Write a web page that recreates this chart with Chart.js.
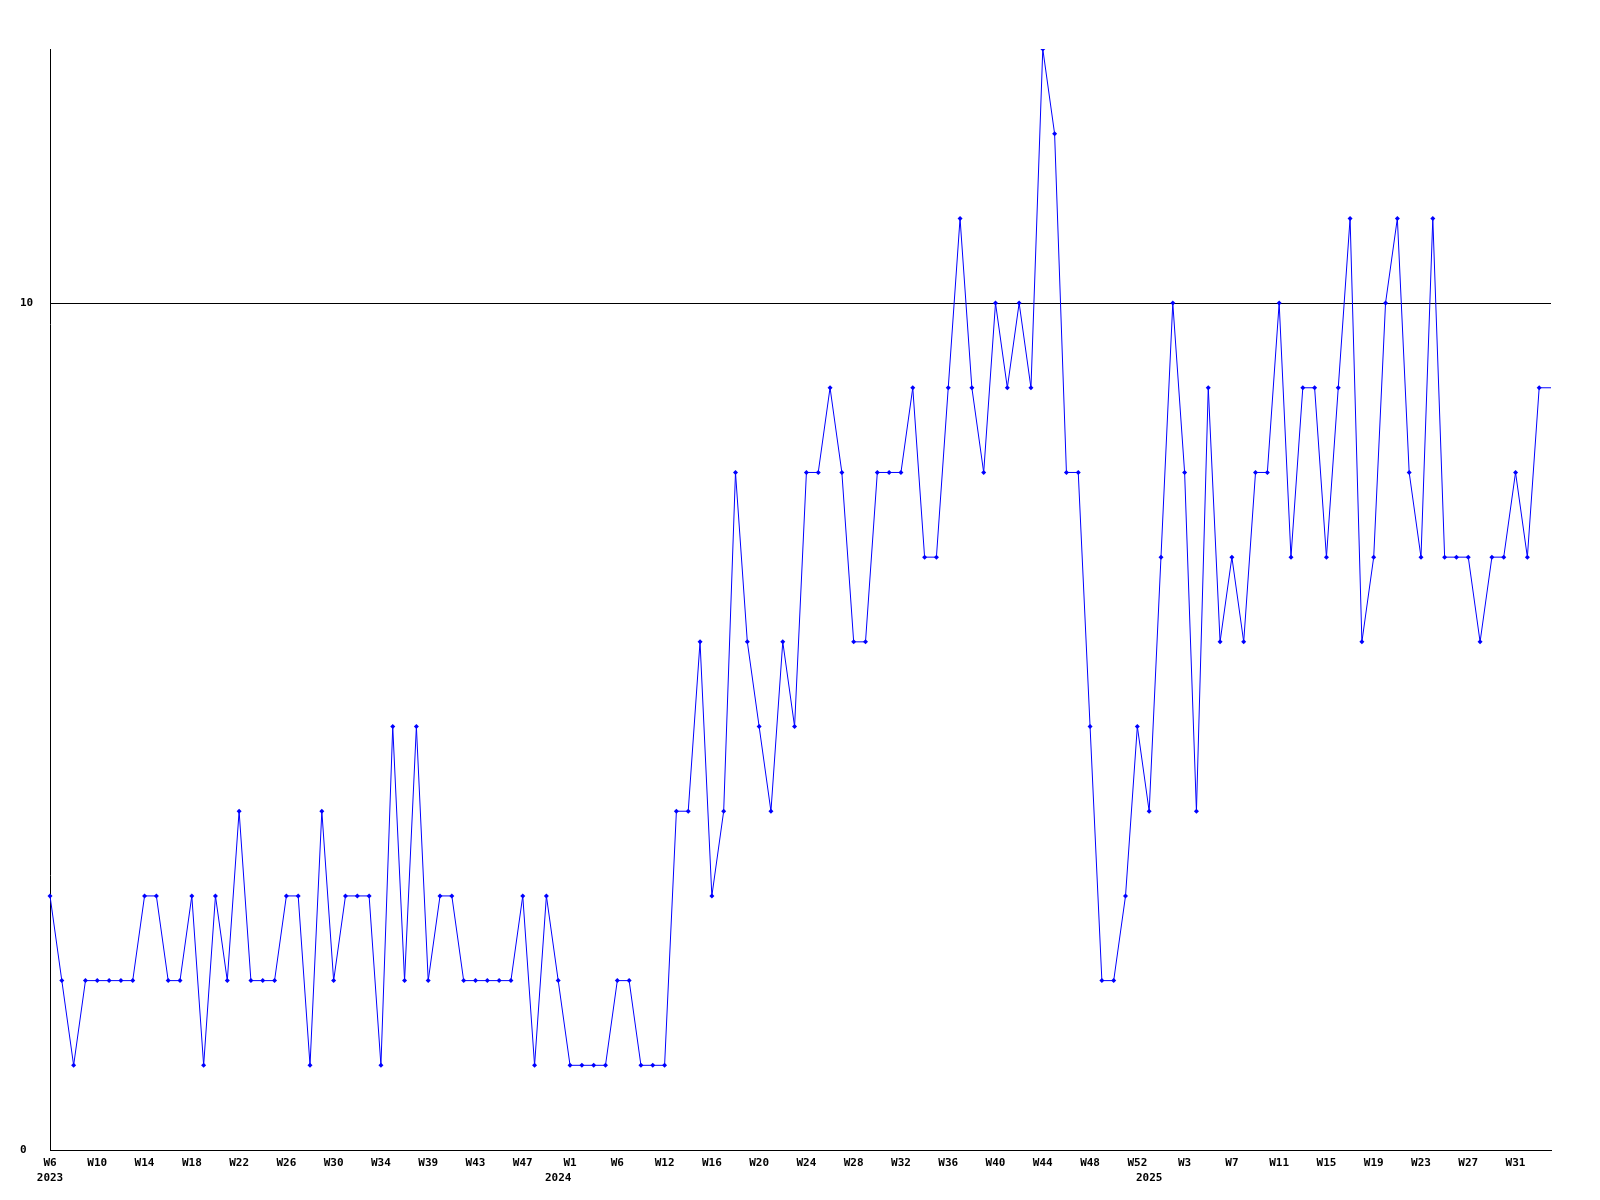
<!DOCTYPE html>
<html>
<head>
<meta charset="utf-8">
<script src="https://cdn.jsdelivr.net/npm/chart.js@4"></script>
<style>
html,body{margin:0;padding:0;background:#fff;}
#wrap{width:1600px;height:1200px;}
</style>
</head>
<body>
<div id="wrap"><canvas id="c" width="1600" height="1200"></canvas></div>
<script>
const weeks = [
  'W6','W7','W8','W9','W10','W11','W12','W13','W14','W15','W16','W17','W18','W19','W20','W21',
  'W22','W23','W24','W25','W26','W27','W28','W29','W30','W31','W32','W33','W34','W35','W36','W37',
  'W39','W40','W41','W42','W43','W44','W45','W46','W47','W48','W49','W51','W1','W2','W3','W4',
  'W6','W7','W9','W10','W12','W13','W14','W15','W16','W17','W18','W19','W20','W21','W22','W23',
  'W24','W25','W26','W27','W28','W29','W30','W31','W32','W33','W34','W35','W36','W37','W38','W39',
  'W40','W41','W42','W43','W44','W45','W46','W47','W48','W49','W50','W51','W52','W0','W1','W2',
  'W3','W4','W5','W6','W7','W8','W9','W10','W11','W12','W13','W14','W15','W16','W17','W18',
  'W19','W20','W21','W22','W23','W24','W25','W26','W27','W28','W29','W30','W31','W32','W33','W34'
];
const counts = [
  3,2,1,2,2,2,2,2,3,3,2,2,3,1,3,2,
  4,2,2,2,3,3,1,4,2,3,3,3,1,5,2,5,
  2,3,3,2,2,2,2,2,3,1,3,2,1,1,1,1,
  2,2,1,1,1,4,4,6,3,4,8,6,5,4,6,5,
  8,8,9,8,6,6,8,8,8,9,7,7,9,11,9,8,
  10,9,10,9,13,12,8,8,5,2,2,3,5,4,7,10,
  8,4,9,6,7,6,8,8,10,7,9,9,7,9,11,6,
  7,10,11,8,7,11,7,7,7,6,7,7,8,7,9,9
];
const yearTickIndex = [0, 43, 93];
const yearNames = ['2023', '2024', '2025'];
const yTicks = [0, 10];
const labelEvery = 4;

const font = {family: '"DejaVu Sans Mono", "Liberation Mono", monospace', size: 11, weight: 'bold', lineHeight: 1.4};

new Chart(document.getElementById('c'), {
  type: 'line',
  data: {
    labels: weeks,
    datasets: [{
      data: counts,
      borderColor: '#0000ff',
      backgroundColor: '#0000ff',
      borderWidth: 1,
      tension: 0,
      fill: false,
      pointStyle: 'rectRot',
      pointRadius: ctx => ctx.dataIndex === counts.length - 1 ? 0 : 2.5,
      pointBorderWidth: 0,
      pointBackgroundColor: '#0000ff'
    }]
  },
  options: {
    responsive: false,
    animation: false,
    devicePixelRatio: 1,
    layout: {padding: {left: 20, right: 49, top: 49, bottom: 0}},
    plugins: {legend: {display: false}, tooltip: {enabled: false}},
    scales: {
      x: {
        type: 'category',
        offset: false,
        grid: {display: false, drawTicks: false},
        border: {display: true, color: '#000', width: 1},
        afterFit: s => { s.height = 50; },
        ticks: {
          autoSkip: false,
          maxRotation: 0,
          minRotation: 0,
          padding: 5,
          color: '#000',
          font: font,
          callback: function(value, index) {
            const lab = index % labelEvery === 0 ? weeks[index] : '';
            const yi = yearTickIndex.indexOf(index);
            return yi >= 0 ? [lab, yearNames[yi]] : lab;
          }
        }
      },
      y: {
        min: 0,
        max: 13,
        afterFit: s => { s.width = 30; },
        afterBuildTicks: s => { s.ticks = yTicks.map(v => ({value: v})); },
        grid: {color: '#000', lineWidth: 1, drawTicks: false},
        border: {display: true, color: '#000', width: 1},
        ticks: {
          crossAlign: 'far',
          padding: 0,
          color: '#000',
          font: font
        }
      }
    }
  }
});
</script>
</body>
</html>
